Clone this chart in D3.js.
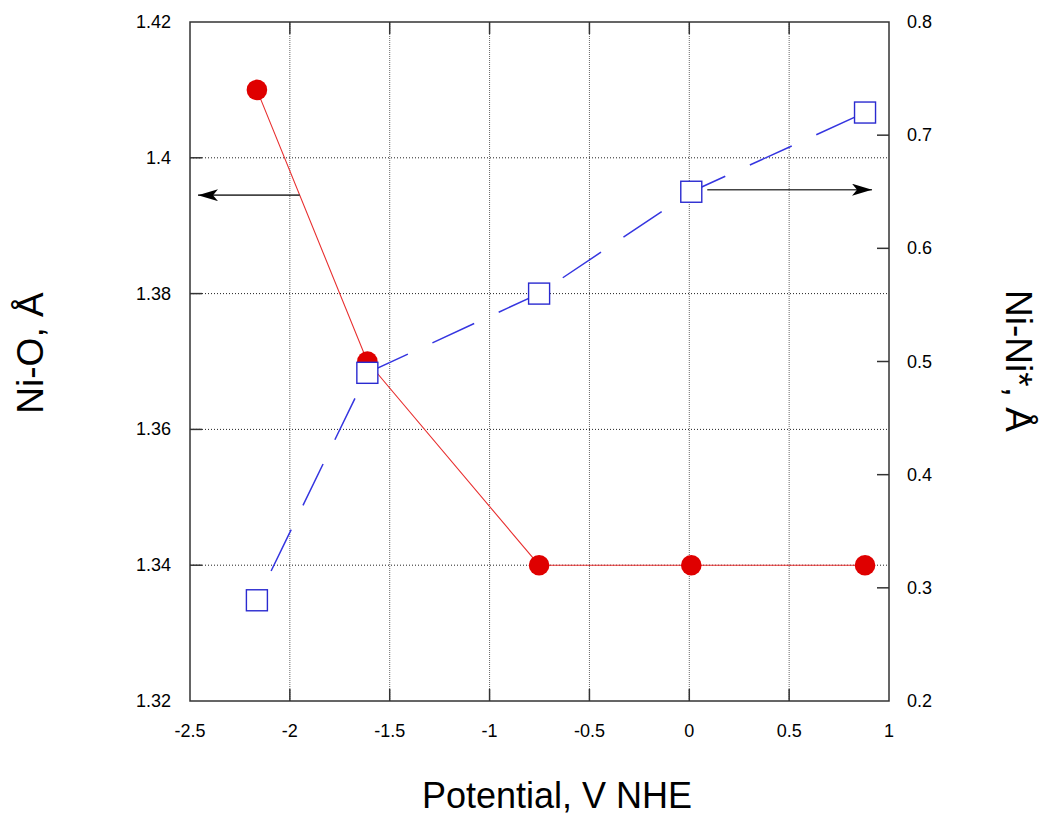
<!DOCTYPE html>
<html>
<head>
<meta charset="utf-8">
<script src="https://cdn.jsdelivr.net/npm/d3@7/dist/d3.min.js"></script>
<style>
  body { margin: 0; background: #fff; }
  svg { display: block; font-family: "Liberation Sans", Arial, Helvetica, sans-serif; }
</style>
</head>
<body>
<svg id="chart" width="1042" height="818"></svg>
<script>
// ---- data ----
const potential = [-2.165, -1.612, -0.752, 0.01, 0.88];
const niO = [1.41, 1.37, 1.34, 1.34, 1.34];
const niNi = [0.289, 0.49, 0.56, 0.65, 0.72];
const xTicks = [-2.5, -2, -1.5, -1, -0.5, 0, 0.5, 1];
const xTickLabels = ["-2.5", "-2", "-1.5", "-1", "-0.5", "0", "0.5", "1"];
const yLeftTicks = [1.32, 1.34, 1.36, 1.38, 1.40, 1.42];
const yLeftTickLabels = ["1.32", "1.34", "1.36", "1.38", "1.4", "1.42"];
const yRightTicks = [0.2, 0.3, 0.4, 0.5, 0.6, 0.7, 0.8];
const yRightTickLabels = ["0.2", "0.3", "0.4", "0.5", "0.6", "0.7", "0.8"];
const xTitle = "Potential, V NHE";
const yLeftTitle = "Ni-O, Å";
const yRightTitle = "Ni-Ni*, Å";
// annotation arrows: [xFrom, xTo, y (left axis units)]
const arrowLeft = [-1.95, -2.46, 1.3945];
const arrowRight = [0.09, 0.915, 1.3953];

const svg = d3.select("#chart");
const L = 190, R = 889, T = 22, B = 701;

const x = d3.scaleLinear().domain([-2.5, 1]).range([L, R]);
const yL = d3.scaleLinear().domain([1.32, 1.42]).range([B, T]);
const yR = d3.scaleLinear().domain([0.2, 0.8]).range([B, T]);

// grid
const g = svg.append("g");
g.selectAll(".vg").data(xTicks.filter(d => d > -2.5 && d < 1)).enter().append("line")
  .attr("x1", d => x(d)).attr("x2", d => x(d)).attr("y1", T).attr("y2", B)
  .attr("stroke", "#666").attr("stroke-width", 1).attr("stroke-dasharray", "1,1");
g.selectAll(".hg").data(yLeftTicks.filter(d => d > 1.321 && d < 1.419)).enter().append("line")
  .attr("x1", L).attr("x2", R).attr("y1", d => yL(d)).attr("y2", d => yL(d))
  .attr("stroke", "#222").attr("stroke-width", 1).attr("stroke-dasharray", "1,2");

// ticks (inward)
const tk = 12;
const tg = svg.append("g").attr("stroke", "#333").attr("stroke-width", 1.5);
xTicks.filter(d => d > -2.5 && d < 1).forEach(d => {
  tg.append("line").attr("x1", x(d)).attr("x2", x(d)).attr("y1", B).attr("y2", B - tk);
  tg.append("line").attr("x1", x(d)).attr("x2", x(d)).attr("y1", T).attr("y2", T + tk);
});
yLeftTicks.filter(d => d > 1.321 && d < 1.419).forEach(d => {
  tg.append("line").attr("x1", L).attr("x2", L + tk).attr("y1", yL(d)).attr("y2", yL(d));
});
yRightTicks.filter(d => d > 0.21 && d < 0.79).forEach(d => {
  tg.append("line").attr("x1", R).attr("x2", R - tk).attr("y1", yR(d)).attr("y2", yR(d));
});

// frame
svg.append("rect").attr("x", L).attr("y", T).attr("width", R - L).attr("height", B - T)
  .attr("fill", "none").attr("stroke", "#333").attr("stroke-width", 1.5);

// tick labels
const lab = svg.append("g").attr("font-size", 18).attr("fill", "#000");
lab.selectAll(".xl").data(xTicks).enter().append("text")
  .attr("x", d => x(d)).attr("y", 737).attr("text-anchor", "middle")
  .text((d, i) => xTickLabels[i]);
lab.selectAll(".yl").data(yLeftTicks).enter().append("text")
  .attr("x", 171).attr("y", d => yL(d) + 6).attr("text-anchor", "end")
  .text((d, i) => yLeftTickLabels[i]);
lab.selectAll(".yr").data(yRightTicks).enter().append("text")
  .attr("x", 907).attr("y", d => yR(d) + 6).attr("text-anchor", "start")
  .text((d, i) => yRightTickLabels[i]);

// axis titles
svg.append("text").attr("x", 557).attr("y", 808).attr("text-anchor", "middle")
  .attr("font-size", 36).text(xTitle);
svg.append("text").attr("transform", "translate(43,353) rotate(-90)")
  .attr("text-anchor", "middle").attr("font-size", 37).text(yLeftTitle);
svg.append("text").attr("transform", "translate(1006,361) rotate(90)")
  .attr("text-anchor", "middle").attr("font-size", 37).text(yRightTitle);

// series lines
const idx = d3.range(potential.length);
const redLine = d3.line().x(i => x(potential[i])).y(i => yL(niO[i]));
const blueLine = d3.line().x(i => x(potential[i])).y(i => yR(niNi[i]));
svg.append("path").attr("d", redLine(idx)).attr("fill", "none")
  .attr("stroke", "#e83030").attr("stroke-width", 1.1);
svg.append("path").attr("d", blueLine(idx)).attr("fill", "none")
  .attr("stroke", "#3535e0").attr("stroke-width", 1.5)
  .attr("stroke-dasharray", "46,27").attr("stroke-dashoffset", 40.5);

// markers
svg.selectAll(".c").data(idx).enter().append("circle")
  .attr("cx", i => x(potential[i])).attr("cy", i => yL(niO[i])).attr("r", 10.3)
  .attr("fill", "#df0000");
const s = 21;
svg.selectAll(".sq").data(idx).enter().append("rect")
  .attr("x", i => x(potential[i]) - s / 2).attr("y", i => yR(niNi[i]) - s / 2)
  .attr("width", s).attr("height", s)
  .attr("fill", "#fff").attr("stroke", "#2a2ad0").attr("stroke-width", 1.4);

// arrows
const defs = svg.append("defs");
defs.append("marker").attr("id", "ah").attr("viewBox", "0 0 20 12")
  .attr("refX", 20).attr("refY", 6).attr("markerWidth", 20).attr("markerHeight", 12)
  .attr("markerUnits", "userSpaceOnUse").attr("orient", "auto")
  .append("path").attr("d", "M0,0 L20,6 L0,12 L5,6 Z").attr("fill", "#000");
[arrowLeft, arrowRight].forEach(a => {
  svg.append("line").attr("x1", x(a[0])).attr("x2", x(a[1]))
    .attr("y1", yL(a[2])).attr("y2", yL(a[2]))
    .attr("stroke", "#444").attr("stroke-width", 1.6).attr("marker-end", "url(#ah)");
});
</script>
</body>
</html>
